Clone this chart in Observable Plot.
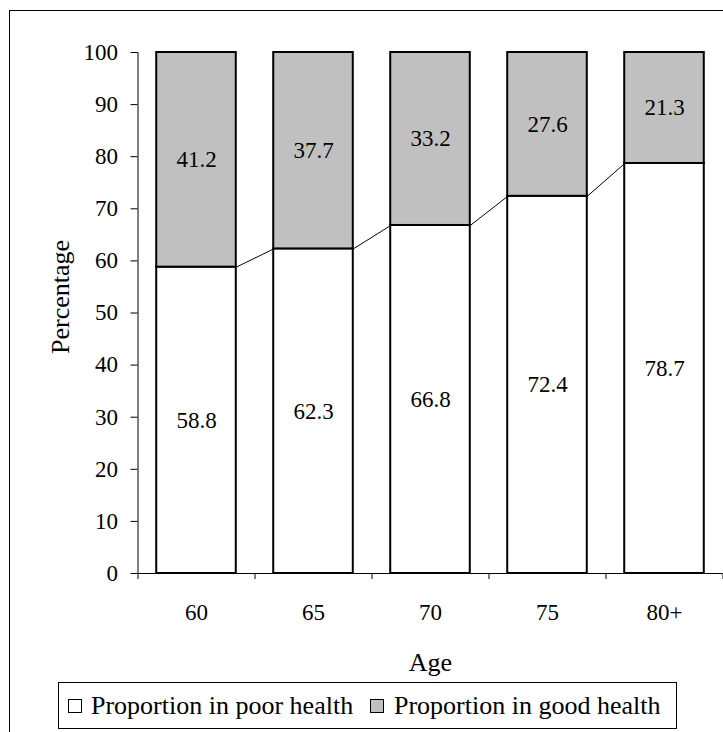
<!DOCTYPE html>
<html>
<head>
<meta charset="utf-8">
<script src="https://cdn.jsdelivr.net/npm/d3@7"></script>
<script src="https://cdn.jsdelivr.net/npm/@observablehq/plot@0.6"></script>
<style>
  html, body { margin: 0; padding: 0; background: #fff; overflow: hidden; width: 723px; height: 732px; }
  #wrap { position: relative; width: 723px; height: 732px; overflow: hidden; }
  #border { position: absolute; left: 9px; top: 9.5px; width: 1000px; height: 1000px; border: 1.5px solid #000; }
  #chart { position: absolute; left: 0; top: 0; }
  #legend { position: absolute; left: 57.5px; top: 682px; width: 617px; height: 45px; border: 1px solid #000; background: #fff;
            font-family: "Liberation Serif", "Times New Roman", serif; font-size: 26px; color: #000; }
  .sw { position: absolute; top: 15.5px; width: 12px; height: 12px; border: 1.5px solid #000; }
  .lt { position: absolute; top: 0; line-height: 45px; white-space: nowrap; }
</style>
</head>
<body>
<div id="wrap">
  <div id="border"></div>
  <div id="chart"></div>
  <div id="legend"></div>
</div>
<script>
// ---- data ----
const ages = ["60", "65", "70", "75", "80+"];
const poorHealth = [58.8, 62.3, 66.8, 72.4, 78.7];
const goodHealth = [41.2, 37.7, 33.2, 27.6, 21.3];
const yTicks = [0, 10, 20, 30, 40, 50, 60, 70, 80, 90, 100];
const seriesNames = ["Proportion in poor health", "Proportion in good health"];
const seriesColors = ["#ffffff", "#c0c0c0"];

// ---- table built from the arrays ----
const rows = ages.map((age, i) => ({i, age, poor: poorHealth[i], good: goodHealth[i]}));
const HW = 0.34; // half bar width in band units
const boundaries = ages.map((_, i) => i - 0.5).concat([ages.length - 0.5]);

const chart = Plot.plot({
  width: 723,
  height: 732,
  marginLeft: 137.5,
  marginRight: 0.5,
  marginTop: 52,
  marginBottom: 159,
  style: {fontFamily: '"Liberation Serif", "Times New Roman", serif', fontSize: "23px", color: "#000", background: "transparent"},
  x: {domain: [-0.5, ages.length - 0.5], axis: null},
  y: {domain: [0, 100], axis: null},
  marks: [
    // bars: poor health (bottom), good health (top)
    Plot.rect(rows, {x1: d => d.i - HW, x2: d => d.i + HW, y1: 0, y2: d => d.poor,
      fill: seriesColors[0], stroke: "#000", strokeWidth: 2}),
    Plot.rect(rows, {x1: d => d.i - HW, x2: d => d.i + HW, y1: d => d.poor, y2: d => d.poor + d.good,
      fill: seriesColors[1], stroke: "#000", strokeWidth: 2}),
    // series lines connecting bar segments
    Plot.link(rows.slice(0, -1), {x1: d => d.i + HW, y1: d => d.poor, x2: d => d.i + 1 - HW, y2: d => rows[d.i + 1].poor,
      stroke: "#000", strokeWidth: 1}),
    // axes
    Plot.ruleX([-0.5], {stroke: "#000", strokeWidth: 1}),
    Plot.ruleY([0], {stroke: "#000", strokeWidth: 1}),
    Plot.axisY({ticks: yTicks, tickSize: 7, tickPadding: 13, label: null, fontSize: 23, stroke: "#000"}),
    Plot.axisX({ticks: boundaries, tickSize: 6, tickFormat: () => "", label: null, stroke: "#000"}),
    // x tick labels
    Plot.text(rows, {x: "i", frameAnchor: "bottom", dy: 39, text: "age", fontSize: 23, lineAnchor: "middle"}),
    // data labels
    Plot.text(rows, {x: "i", y: d => d.poor / 2, text: d => d.poor.toFixed(1), fontSize: 23, lineAnchor: "middle"}),
    Plot.text(rows, {x: "i", y: d => d.poor + d.good / 2, text: d => d.good.toFixed(1), fontSize: 23, lineAnchor: "middle"}),
    // axis titles
    Plot.text(["Age"], {frameAnchor: "bottom", dy: 88.7, text: d => d, fontSize: 26, textAnchor: "middle", lineAnchor: "middle"}),
    Plot.text(["Percentage"], {frameAnchor: "left", dx: -77.5, dy: -16, rotate: -90, text: d => d, fontSize: 26, textAnchor: "middle", lineAnchor: "middle"})
  ]
});
document.getElementById("chart").appendChild(chart);

// ---- legend ----
const legend = document.getElementById("legend");
const swLeft = [9.5, 311.5];
const txtLeft = [32.5, 335.5];
seriesNames.forEach((name, k) => {
  const sw = document.createElement("div");
  sw.className = "sw";
  sw.style.left = swLeft[k] + "px";
  sw.style.background = seriesColors[k];
  legend.appendChild(sw);
  const t = document.createElement("div");
  t.className = "lt";
  t.style.left = txtLeft[k] + "px";
  t.textContent = name;
  legend.appendChild(t);
});
</script>
</body>
</html>
